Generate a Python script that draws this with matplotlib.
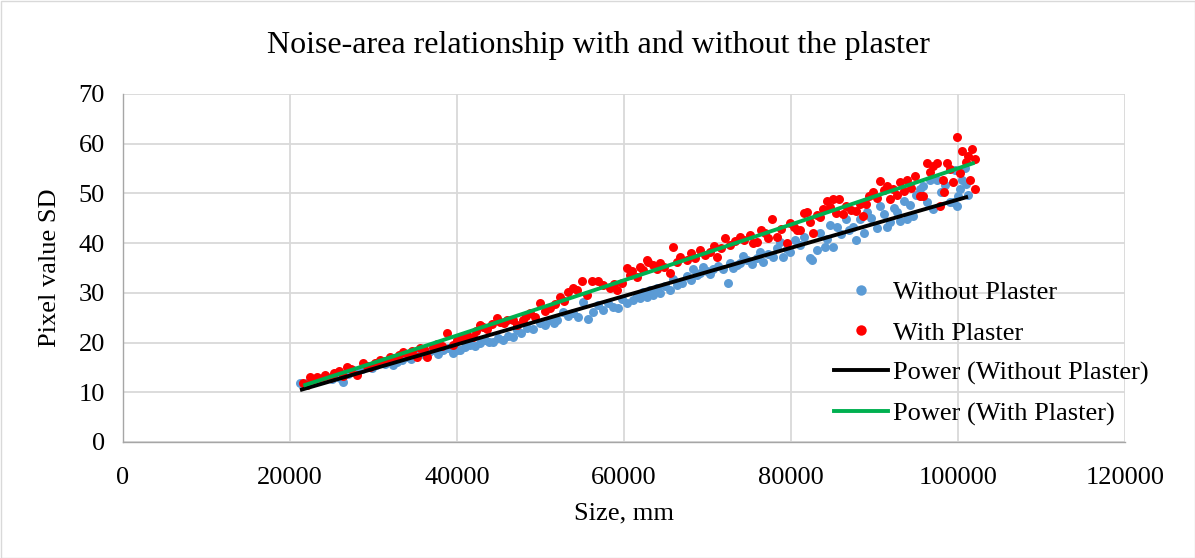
import numpy as np
import matplotlib
matplotlib.use("Agg")
import matplotlib.pyplot as plt
from matplotlib.lines import Line2D
from matplotlib.patches import Rectangle

plt.rcParams['font.family'] = ['Liberation Serif', 'DejaVu Serif']

title = "Noise-area relationship with and without the plaster"
x_label = "Size, mm"
y_label = "Pixel value SD"
x_ticks = [0, 20000, 40000, 60000, 80000, 100000, 120000]
y_ticks = [0, 10, 20, 30, 40, 50, 60, 70]

without_size = [21200, 21600, 22000, 22800, 23300, 23800, 24400, 25000, 25500, 26000,
                26400, 27000, 27500, 28000, 28600, 29200, 29800, 30300, 30800, 31400,
                32000, 32300, 32800, 33400, 34000, 34500, 35000, 35600, 36200, 36600,
                37100, 37700, 38300, 38900, 39500, 40000, 40300, 40900, 41500, 42100,
                42700, 43300, 43800, 44300, 44900, 45500, 46100, 46700, 47200, 47700,
                48400, 49100, 49900, 50500, 51100, 51600, 52000, 52700, 53300, 53900,
                54500, 55100, 55700, 56300, 56900, 57500, 58100, 58700, 59300, 59800,
                60400, 61100, 61600, 61900, 62300, 62700, 63100, 63500, 63900, 64300,
                64900, 65500, 65900, 66300, 66900, 67500, 68000, 68300, 68700, 69100,
                69500, 69900, 70300, 70700, 71300, 71900, 72400, 72700, 73100, 73500,
                73900, 74300, 74700, 75300, 75900, 76300, 76700, 77300, 77900, 78300,
                78700, 79100, 79500, 79900, 80500, 81100, 81600, 82300, 82500, 83100,
                83500, 84100, 84300, 84700, 85000, 85500, 86000, 86600, 87000, 87400,
                87800, 88300, 88800, 89100, 89600, 90300, 90700, 91100, 91500, 91800,
                92300, 92700, 93100, 93500, 93900, 94300, 94600, 95000, 95400, 95800,
                96300, 96600, 97000, 97500, 98000, 98500, 99000, 99400, 99700, 99900,
                100000, 100200, 100500, 100800, 101000, 101200]
without_sd = [11.9, 11.5, 11.8, 12.5, 12.2, 12.8, 13.1, 12.7, 13.3, 12.9,
              12.1, 13.6, 14.5, 13.9, 14.6, 15.1, 14.8, 15.4, 15.9, 15.6,
              16.2, 15.5, 16.1, 16.4, 17.1, 16.6, 17.3, 17.9, 17.5, 18.2,
              18.5, 17.8, 18.5, 18.9, 17.9, 18.6, 18.5, 19.2, 19.6, 19.3,
              20.0, 20.5, 20.1, 20.2, 21.0, 20.6, 21.4, 21.2, 22.6, 21.9,
              23.0, 22.7, 24.0, 23.6, 24.6, 24.0, 24.6, 26.2, 25.4, 26.0,
              25.1, 28.2, 24.8, 26.2, 27.5, 26.6, 27.9, 27.2, 27.0, 28.8,
              28.0, 28.6, 29.6, 29.0, 30.1, 29.2, 30.5, 29.6, 31.0, 30.0,
              31.4, 30.6, 32.7, 31.6, 32.0, 33.3, 32.6, 34.7, 33.5, 34.0,
              35.2, 34.3, 33.8, 34.7, 35.5, 34.7, 32.0, 36.1, 35.0, 35.6,
              36.0, 37.4, 36.7, 35.9, 37.0, 38.2, 36.3, 37.9, 37.3, 39.0,
              40.3, 37.3, 38.8, 38.3, 40.6, 39.7, 41.2, 37.1, 36.7, 38.7,
              42.1, 39.3, 40.8, 43.6, 39.3, 43.3, 41.9, 44.8, 42.6, 43.3,
              40.7, 44.8, 42.0, 46.2, 45.0, 43.1, 47.4, 45.8, 43.3, 44.2,
              47.0, 46.2, 44.4, 48.4, 44.8, 47.6, 45.4, 49.6, 50.8, 51.4,
              48.2, 52.8, 46.8, 52.8, 50.2, 51.6, 48.2, 48.2, 54.8, 47.4,
              49.4, 50.8, 52.8, 55.2, 51.8, 49.6]

with_size = [21600, 22000, 22400, 22800, 23200, 23700, 24200, 24800, 25300, 25900,
             26300, 26800, 27300, 28000, 28700, 29200, 29600, 30200, 30800, 31400,
             32000, 32600, 33000, 33500, 34100, 34600, 35200, 35600, 36000, 36400,
             37100, 37600, 38200, 38800, 39500, 40000, 40600, 41200, 41900, 42300,
             42700, 43100, 43600, 44200, 44800, 45100, 45600, 46000, 46700, 47200,
             47900, 48300, 48700, 49300, 49900, 50500, 51100, 51700, 52300, 52800,
             53300, 53900, 54400, 55000, 55600, 56200, 56900, 57500, 58300, 58800,
             59200, 59800, 60400, 60700, 61000, 61500, 61900, 62300, 62700, 62900,
             63500, 63900, 64300, 64800, 65500, 65900, 66300, 66700, 67500, 68000,
             68500, 69100, 69700, 70300, 70800, 71100, 71600, 72100, 72700, 73300,
             73900, 74400, 75100, 75500, 75900, 76400, 76900, 77300, 77700, 78300,
             78800, 79500, 79900, 80300, 80700, 81100, 81500, 81900, 82300, 82600,
             83100, 83500, 83800, 84300, 84700, 85000, 85400, 85800, 86200, 86600,
             87200, 87800, 88300, 88600, 89000, 89400, 89800, 90300, 90700, 91100,
             91500, 91800, 92200, 92700, 93100, 93500, 93900, 94400, 94800, 95400,
             95800, 96300, 96700, 97000, 97500, 97800, 98200, 98300, 98700, 99100,
             99400, 99900, 100200, 100500, 100900, 101200, 101400, 101700, 102000, 102000]
with_sd = [11.9, 11.4, 13.1, 12.3, 13.1, 12.6, 13.4, 12.9, 13.8, 14.2,
           13.3, 15.1, 14.6, 13.5, 15.9, 15.3, 15.1, 15.8, 16.5, 16.2,
           17.1, 16.8, 17.6, 18.1, 17.5, 18.4, 17.1, 19.0, 18.7, 17.1,
           19.2, 19.8, 19.4, 22.0, 19.6, 20.6, 20.9, 21.6, 21.2, 22.3,
           23.6, 23.2, 22.8, 23.8, 25.0, 24.2, 24.0, 24.6, 24.6, 23.6,
           24.6, 25.4, 26.0, 25.2, 28.0, 26.4, 27.0, 27.8, 29.2, 28.4,
           30.2, 31.0, 30.6, 32.3, 29.5, 32.3, 32.3, 31.6, 31.0, 31.8,
           30.6, 32.0, 35.0, 33.6, 34.3, 33.2, 35.3, 34.6, 36.7, 36.2,
           35.7, 34.8, 36.0, 35.2, 34.0, 39.3, 36.2, 37.3, 36.7, 38.0,
           37.1, 38.7, 37.6, 38.3, 39.4, 37.3, 39.0, 41.1, 39.7, 40.4,
           41.3, 40.6, 41.7, 40.0, 40.3, 42.6, 42.1, 41.0, 44.8, 41.3,
           42.9, 40.1, 44.0, 43.3, 42.7, 42.7, 46.1, 46.2, 44.3, 42.1,
           45.6, 45.2, 46.8, 48.4, 47.2, 48.8, 46.0, 48.8, 45.8, 47.4,
           46.6, 46.4, 47.8, 45.4, 47.8, 49.4, 50.2, 49.0, 52.4, 50.6,
           51.4, 48.8, 50.9, 49.6, 52.2, 50.4, 52.8, 51.0, 53.6, 49.4,
           49.4, 56.2, 54.4, 55.6, 56.2, 47.4, 52.8, 50.2, 56.2, 55.0,
           52.2, 61.3, 54.2, 58.5, 56.4, 57.6, 52.8, 58.9, 56.9, 50.8]

BLUE = "#5B9BD5"
RED = "#FF0000"
GREEN = "#00B050"
GRID = "#D9D9D9"
FS = 19

W, H = 1195, 558
fig = plt.figure(figsize=(W / 100, H / 100), dpi=100)
ax = fig.add_axes([123 / W, 1 - 442 / H, (1125 - 123) / W, (442 - 94) / H])

ax.scatter(without_size, without_sd, s=42, color=BLUE, linewidths=0, zorder=3)
ax.scatter(with_size, with_sd, s=42, color=RED, linewidths=0, zorder=4)


def power_fit(xs, ys):
    xs = np.asarray(xs, float)
    ys = np.asarray(ys, float)
    b, ln_a = np.polyfit(np.log(xs), np.log(ys), 1)
    xx = np.linspace(xs.min(), xs.max(), 200)
    return xx, np.exp(ln_a) * xx ** b


xb, yb = power_fit(without_size, without_sd)
xg, yg = power_fit(with_size, with_sd)
ax.plot(xb, yb, color="black", lw=2.8, zorder=5, solid_capstyle="butt")
ax.plot(xg, yg, color=GREEN, lw=2.8, zorder=6, solid_capstyle="butt")

ax.set_xlim(0, 120000)
ax.set_ylim(0, 70)
ax.set_xticks(x_ticks)
ax.set_yticks(y_ticks)
ax.set_xticklabels([str(t) for t in x_ticks])
ax.set_yticklabels([str(t) for t in y_ticks])
ax.tick_params(length=0, labelsize=FS, colors="black")
ax.tick_params(axis="x", pad=18)
ax.tick_params(axis="y", pad=13)
ax.grid(True, color=GRID, lw=1.3, zorder=0)
ax.set_axisbelow(True)
for s in ["top", "right"]:
    ax.spines[s].set_visible(False)
for s in ["left", "bottom"]:
    ax.spines[s].set_color("#A6A6A6")
    ax.spines[s].set_linewidth(1.0)

fig.text(624 / W, 1 - 513 / H, x_label, ha="center", va="center", fontsize=FS)
fig.text(50 / W, 1 - 268 / H, y_label, ha="center", va="center", fontsize=FS, rotation=90)
fig.text(598 / W, 1 - 45 / H, title, ha="center", va="center", fontsize=23)

handles = [
    Line2D([], [], ls="none", marker="o", ms=7.5, color=BLUE, mec="none"),
    Line2D([], [], ls="none", marker="o", ms=7.5, color=RED, mec="none"),
    Line2D([], [], color="black", lw=2.8),
    Line2D([], [], color=GREEN, lw=2.8),
]
labels = ["Without Plaster", "With Plaster", "Power (Without Plaster)", "Power (With Plaster)"]
fig.legend(handles, labels, loc="upper left", bbox_to_anchor=(834 / W, 1 - 281 / H),
           frameon=False, fontsize=FS, handlelength=2.05, handletextpad=0.2,
           labelspacing=0.63, borderaxespad=0, borderpad=0)

fig.add_artist(Rectangle((0.5 / W, 0.5 / H), 1 - 1 / W, 1 - 1 / H, transform=fig.transFigure,
                         fill=False, edgecolor="#D9D9D9", lw=1.0))

fig.savefig("out.png", dpi=100)
